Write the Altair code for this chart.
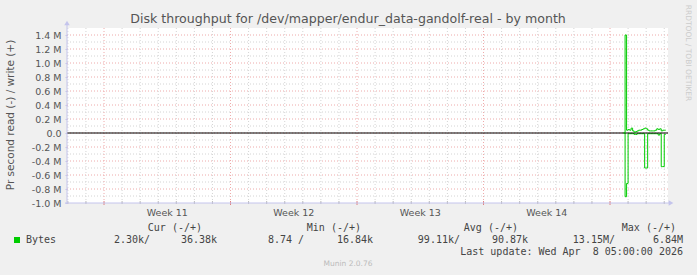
import altair as alt
import pandas as pd

# ---------------- data ----------------
times = [
    "2026-04-05T18:00:00Z", "2026-04-05T20:00:00Z", "2026-04-05T22:00:00Z",
    "2026-04-06T00:00:00Z", "2026-04-06T02:00:00Z", "2026-04-06T04:00:00Z",
    "2026-04-06T06:00:00Z", "2026-04-06T08:00:00Z", "2026-04-06T10:00:00Z",
    "2026-04-06T12:00:00Z", "2026-04-06T14:00:00Z", "2026-04-06T16:00:00Z",
    "2026-04-06T18:00:00Z", "2026-04-06T20:00:00Z", "2026-04-06T22:00:00Z",
    "2026-04-07T00:00:00Z", "2026-04-07T02:00:00Z", "2026-04-07T04:00:00Z",
    "2026-04-07T06:00:00Z", "2026-04-07T08:00:00Z", "2026-04-07T10:00:00Z",
    "2026-04-07T12:00:00Z", "2026-04-07T14:00:00Z", "2026-04-07T16:00:00Z",
    "2026-04-07T18:00:00Z", "2026-04-07T20:00:00Z", "2026-04-07T22:00:00Z",
    "2026-04-08T00:00:00Z", "2026-04-08T02:00:00Z",
]
write_M = [0.0, 1.40, 0.04, 0.05, 0.04, 0.07, 0.03, 0.01, 0.02, 0.03, 0.04, 0.04,
           0.05, 0.06, 0.07, 0.06, 0.04, 0.03, 0.03, 0.03, 0.03, 0.04, 0.06, 0.05,
           0.06, 0.03, 0.04, 0.04, 0.04]
read_M = [0.0, 0.91, 0.72, 0.01, 0.01, 0.01, 0.01, 0.02, 0.02, 0.01, 0.01, 0.01,
          0.01, 0.01, 0.50, 0.50, 0.01, 0.01, 0.01, 0.01, 0.01, 0.01, 0.01, 0.03,
          0.01, 0.48, 0.48, 0.02, 0.02]

y_ticks = [-1.0, -0.8, -0.6, -0.4, -0.2, 0.0, 0.2, 0.4, 0.6, 0.8, 1.0, 1.2, 1.4]
y_minor = [-0.9, -0.7, -0.5, -0.3, -0.1, 0.1, 0.3, 0.5, 0.7, 0.9, 1.1, 1.3]

week_starts = ["2026-03-08T00:00:00Z", "2026-03-15T00:00:00Z", "2026-03-22T00:00:00Z",
               "2026-03-29T00:00:00Z", "2026-04-05T00:00:00Z"]
week_label_times = ["2026-03-11T12:00:00Z", "2026-03-18T12:00:00Z",
                    "2026-03-25T12:00:00Z", "2026-04-01T12:00:00Z"]
week_labels = ["Week 11", "Week 12", "Week 13", "Week 14"]

title_text = "Disk throughput for /dev/mapper/endur_data-gandolf-real - by month"
y_title = "Pr second read (-) / write (+)"
legend_headers = ["Cur (-/+)", "Min (-/+)", "Avg (-/+)", "Max (-/+)"]
legend_values = ["2.30k/", "36.38k", "8.74 /", "16.84k", "99.11k/", "90.87k", "13.15M/", "6.84M"]
series_name = "Bytes"
last_update = "Last update: Wed Apr \u00a08 05:00:00 2026"
munin_version = "Munin 2.0.76"
rrd_credit = "RRDTOOL / TOBI OETIKER"

# ---------------- layout ----------------
L, T = 67, 28
W, H = 601, 175
GREEN = "#00cc00"
AXIS_C = "#c4c4ec"
MINOR_C = "#d4d4d4"
MAJOR_C = "#eeaaaa"

xscale = alt.Scale(type="utc", domain=[
    alt.DateTime(year=2026, month=3, date=5, hours=22, minutes=50, utc=True),
    alt.DateTime(year=2026, month=4, date=8, hours=5, utc=True)])
yscale = alt.Scale(domain=[-1.0, 1.5], nice=False, zero=False)
yaxis = alt.Axis(values=y_ticks, grid=False, domain=False, ticks=True, tickSize=2,
                 tickColor=AXIS_C, labelFont="DejaVu Sans", labelFontSize=9.5,
                 labelColor="#555555", labelPadding=4, title=None,
                 labelExpr="datum.value == 0 ? '0.0' : (datum.value < 0 ? '-' : '') + format(abs(datum.value), '.1f') + ' M'")

all_days = [d.strftime("%Y-%m-%dT%H:%M:%SZ") for d in pd.date_range("2026-03-06", "2026-04-08", freq="D")]
minor_days = [d for d in all_days if d not in week_starts]

def X(field="t"):
    return alt.X(f"{field}:T", scale=xscale, axis=None)

def Y(field="v"):
    return alt.Y(f"{field}:Q", scale=yscale, axis=yaxis)

def txt(text, x, y, size=10, font="DejaVu Sans Mono", color="#444444",
        align="left", angle=0, baseline="middle"):
    return alt.Chart(pd.DataFrame({"s": [text]})).mark_text(
        font=font, fontSize=size, color=color, align=align, baseline=baseline, angle=angle
    ).encode(text="s:N", x=alt.value(x - L), y=alt.value(y - T))

layers = []
# horizontal grid
layers.append(alt.Chart(pd.DataFrame({"v": y_minor})).mark_rule(
    color=MINOR_C, strokeWidth=1, strokeDash=[1, 2]).encode(
    y=Y(), x=alt.value(0), x2=alt.value(W)))
layers.append(alt.Chart(pd.DataFrame({"v": y_ticks[1:]})).mark_rule(
    color=MAJOR_C, strokeWidth=1, strokeDash=[1, 2]).encode(
    y=Y(), x=alt.value(0), x2=alt.value(W)))
# vertical grid
layers.append(alt.Chart(pd.DataFrame({"t": minor_days})).mark_rule(
    color=MINOR_C, strokeWidth=1, strokeDash=[1, 2]).encode(
    x=X(), y=alt.value(0), y2=alt.value(H)))
layers.append(alt.Chart(pd.DataFrame({"t": week_starts})).mark_rule(
    color=MAJOR_C, strokeWidth=1, strokeDash=[1, 2]).encode(
    x=X(), y=alt.value(0), y2=alt.value(H)))
# x axis small ticks
layers.append(alt.Chart(pd.DataFrame({"t": minor_days})).mark_rule(
    color="#bbbbbb", strokeWidth=1).encode(x=X(), y=alt.value(H - 2), y2=alt.value(H + 1)))
layers.append(alt.Chart(pd.DataFrame({"t": week_starts})).mark_rule(
    color="#e08080", strokeWidth=1).encode(x=X(), y=alt.value(H - 2), y2=alt.value(H + 2)))

df = pd.DataFrame({"t": times, "w": write_M, "r": read_M})
# read (negative)
layers.append(alt.Chart(df).transform_calculate(v="-datum.r").mark_line(
    color=GREEN, strokeWidth=1, interpolate="step-after").encode(x=X(), y=Y()))
# zero line
layers.append(alt.Chart(pd.DataFrame({"v": [0.0]})).mark_rule(
    color="black", strokeWidth=1).encode(y=Y(), x=alt.value(0), x2=alt.value(W)))
# write (positive)
layers.append(alt.Chart(df).mark_line(
    color=GREEN, strokeWidth=1, interpolate="step-after").encode(x=X(), y=Y("w")))

# axis lines and arrows
layers.append(alt.Chart(pd.DataFrame({"a": [0]})).mark_rule(color=AXIS_C, strokeWidth=1).encode(
    x=alt.value(0), y=alt.value(-4), y2=alt.value(H + 1)))
layers.append(alt.Chart(pd.DataFrame({"a": [0]})).mark_rule(color=AXIS_C, strokeWidth=1).encode(
    x=alt.value(-2), x2=alt.value(W + 2), y=alt.value(H)))
layers.append(alt.Chart(pd.DataFrame({"a": [0]})).mark_point(
    shape="triangle-up", filled=True, size=30, color=AXIS_C, opacity=1).encode(
    x=alt.value(0), y=alt.value(-5)))
layers.append(alt.Chart(pd.DataFrame({"a": [0]})).mark_point(
    shape="triangle-right", filled=True, size=30, color=AXIS_C, opacity=1).encode(
    x=alt.value(W + 3), y=alt.value(H)))

# week labels
layers.append(alt.Chart(pd.DataFrame({"t": week_label_times, "s": week_labels})).mark_text(
    font="DejaVu Sans", fontSize=9.5, color="#555555", align="center", baseline="middle").encode(
    x=X(), y=alt.value(213 - T), text="s:N"))

# titles
layers.append(txt(title_text, 348, 19, size=12.6, font="DejaVu Sans", color="#555555", align="center"))
layers.append(txt(y_title, 11, 115, size=10.5, font="DejaVu Sans", color="#555555", align="center", angle=270))
layers.append(txt(rrd_credit, 688, 53, size=7.5, font="DejaVu Sans", color="#cccccc", align="center", angle=90))

# legend
header_right = [202, 361, 518, 676]
for h, xr in zip(legend_headers, header_right):
    layers.append(txt(h, xr, 228, align="right"))
layers.append(alt.Chart(pd.DataFrame({"a": [0]})).mark_rect(color=GREEN).encode(
    x=alt.value(14 - L), x2=alt.value(20 - L), y=alt.value(237 - T), y2=alt.value(243 - T)))
layers.append(txt(series_name, 26, 240))
value_right = [150, 217, 304, 373, 460, 528, 615, 683]
for v, xr in zip(legend_values, value_right):
    layers.append(txt(v, xr, 240, align="right"))
layers.append(txt(last_update, 683, 252, align="right"))
layers.append(txt(munin_version, 348, 264, size=7.5, font="DejaVu Sans", color="#bbbbbb", align="center"))

chart = alt.layer(*layers).properties(
    width=W, height=H, background="#f0f0f0",
    padding={"left": L, "top": T, "right": 697 - L - W, "bottom": 275 - T - H},
    autosize=alt.AutoSizeParams(type="none"),
).configure_view(fill="white", stroke=None)

chart.save("out.html", embed_options={"renderer": "svg", "actions": False})
